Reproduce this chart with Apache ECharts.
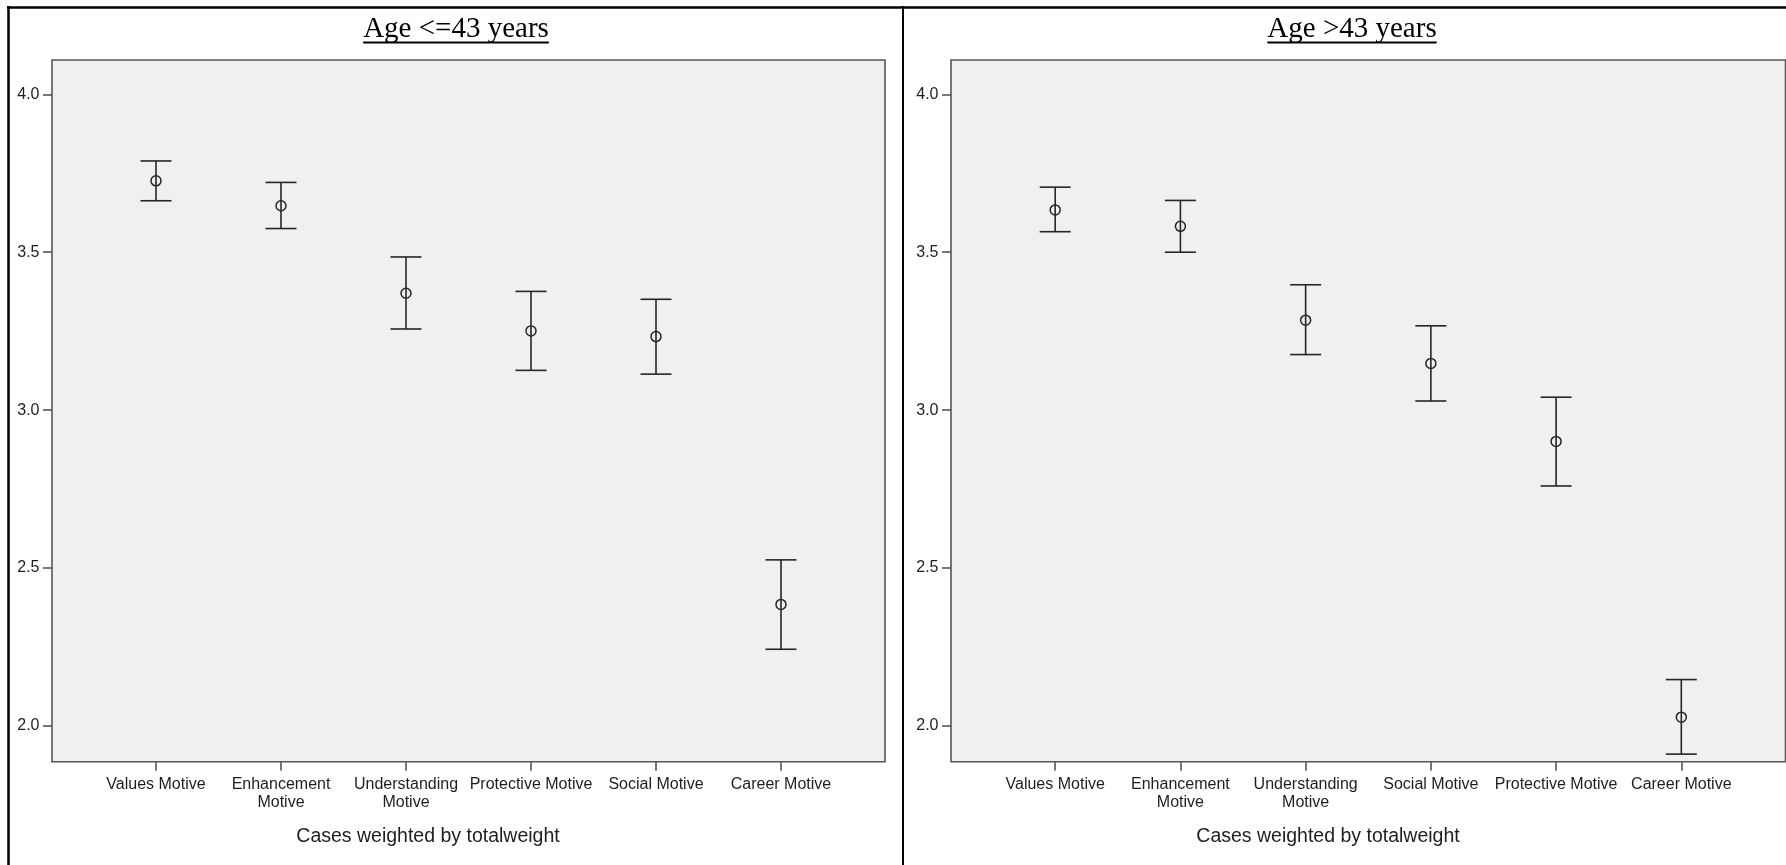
<!DOCTYPE html>
<html>
<head>
<meta charset="utf-8">
<title>Volunteer motives by age group</title>
<script src="https://cdn.jsdelivr.net/npm/echarts@6/dist/echarts.min.js"></script>
<style>
  html, body { margin: 0; padding: 0; background: #fff; }
  #chart { width: 1786px; height: 865px; }
</style>
</head>
<body>
<div id="chart"></div>
<script>
// Panel headings
const panelTitles = ['Age <=43 years', 'Age >43 years'];
const footnote = 'Cases weighted by totalweight';

// Age <= 43: categories in plotted order, with mean and interval bounds
const categoriesYoung = ['Values Motive', 'Enhancement\nMotive', 'Understanding\nMotive', 'Protective Motive', 'Social Motive', 'Career Motive'];
const meanYoung = [3.726, 3.647, 3.370, 3.251, 3.233, 2.385];
const lowYoung  = [3.663, 3.575, 3.257, 3.126, 3.114, 2.243];
const highYoung = [3.789, 3.721, 3.485, 3.376, 3.351, 2.526];

// Age > 43
const categoriesOld = ['Values Motive', 'Enhancement\nMotive', 'Understanding\nMotive', 'Social Motive', 'Protective Motive', 'Career Motive'];
const meanOld = [3.634, 3.582, 3.285, 3.148, 2.901, 2.028];
const lowOld  = [3.565, 3.500, 3.176, 3.029, 2.760, 1.911];
const highOld = [3.706, 3.664, 3.397, 3.267, 3.041, 2.147];

// Y axis tick values
const yTicks = [2.0, 2.5, 3.0, 3.5, 4.0];

const labelFont = "'Liberation Sans', Arial, sans-serif";
const serifFont = "'Liberation Serif', 'Times New Roman', serif";
const ink = '#1e1e1e';
const frame = '#555555';

const chart = echarts.init(document.getElementById('chart'), null, { renderer: 'canvas' });

function rows(low, high, mean) {
  return mean.map((m, i) => [i, low[i], high[i], m]);
}

// Vertical interval with end caps and a hollow circle at the mean
function renderErrorBar(params, api) {
  const x = api.value(0);
  const lo = api.coord([x, api.value(1)]);
  const hi = api.coord([x, api.value(2)]);
  const mid = api.coord([x, api.value(3)]);
  const half = 15.5;
  const style = { stroke: '#262626', lineWidth: 1.6, fill: null };
  return {
    type: 'group',
    children: [
      { type: 'line', shape: { x1: hi[0], y1: hi[1], x2: lo[0], y2: lo[1] }, style },
      { type: 'line', shape: { x1: hi[0] - half, y1: hi[1], x2: hi[0] + half, y2: hi[1] }, style },
      { type: 'line', shape: { x1: lo[0] - half, y1: lo[1], x2: lo[0] + half, y2: lo[1] }, style },
      { type: 'circle', shape: { cx: mid[0], cy: mid[1], r: 5 }, style: { stroke: '#262626', lineWidth: 1.5, fill: 'none' } }
    ]
  };
}

function xAxisFor(gridIndex, cats) {
  const idx = cats.map((_, i) => i);
  return {
    type: 'value', gridIndex, min: -0.832, max: cats.length - 1 + 0.832,
    position: 'bottom',
    splitLine: { show: false },
    axisLine: { show: false, onZero: false },
    axisTick: { show: true, customValues: idx, length: 9, inside: false, lineStyle: { color: frame, width: 1.6 } },
    axisLabel: {
      customValues: idx, margin: 14, hideOverlap: false,
      formatter: v => cats[Math.round(v)],
      color: ink, fontFamily: labelFont, fontSize: 16, lineHeight: 17.6, align: 'center'
    }
  };
}

function yAxisFor(gridIndex) {
  return {
    type: 'value', gridIndex, min: 1.887, max: 4.1086,
    position: 'left',
    splitLine: { show: false },
    axisLine: { show: false, onZero: false },
    axisTick: { show: true, customValues: yTicks, length: 9, lineStyle: { color: frame, width: 1.6 } },
    axisLabel: {
      customValues: yTicks, margin: 12.5,
      formatter: v => Number(v).toFixed(1),
      color: ink, fontFamily: labelFont, fontSize: 16
    }
  };
}

const gridBase = { top: 60, height: 701.7, show: true, backgroundColor: '#f0f0f0', borderColor: frame, borderWidth: 1.6, containLabel: false };

// Underline widths for the serif headings
const measureCtx = document.createElement('canvas').getContext('2d');
function textWidth(text, font) { measureCtx.font = font; return measureCtx.measureText(text).width; }
const titleFont = '29px ' + serifFont;

function heading(text, cx) {
  const w = textWidth(text, titleFont);
  return [
    { type: 'text', style: { text, x: cx, y: 29.7, font: titleFont, fill: '#000', align: 'center', verticalAlign: 'middle' } },
    { type: 'line', shape: { x1: cx - w / 2, y1: 42.5, x2: cx + w / 2, y2: 42.5 }, style: { stroke: '#000', lineWidth: 1.8 } }
  ];
}

function footer(text, cx) {
  return { type: 'text', style: { text, x: cx, y: 837, font: '19.5px ' + labelFont, fill: ink, align: 'center', verticalAlign: 'middle' } };
}

const cellLines = { stroke: '#000', lineWidth: 2.5 };

chart.setOption({
  animation: false,
  backgroundColor: '#ffffff',
  grid: [
    Object.assign({ left: 52, width: 833 }, gridBase),
    Object.assign({ left: 951, width: 834.5 }, gridBase)
  ],
  xAxis: [xAxisFor(0, categoriesYoung), xAxisFor(1, categoriesOld)],
  yAxis: [yAxisFor(0), yAxisFor(1)],
  series: [
    { type: 'custom', xAxisIndex: 0, yAxisIndex: 0, renderItem: renderErrorBar, data: rows(lowYoung, highYoung, meanYoung), encode: { x: 0, y: [1, 2, 3] }, clip: false },
    { type: 'custom', xAxisIndex: 1, yAxisIndex: 1, renderItem: renderErrorBar, data: rows(lowOld, highOld, meanOld), encode: { x: 0, y: [1, 2, 3] }, clip: false }
  ],
  graphic: [
    // table rules around the two panels
    { type: 'line', shape: { x1: 7, y1: 7.5, x2: 1786, y2: 7.5 }, style: cellLines },
    { type: 'line', shape: { x1: 8.5, y1: 6, x2: 8.5, y2: 865 }, style: cellLines },
    { type: 'line', shape: { x1: 903, y1: 6, x2: 903, y2: 865 }, style: { stroke: '#000', lineWidth: 2 } },
    ...heading(panelTitles[0], 456),
    ...heading(panelTitles[1], 1352),
    footer(footnote, 428),
    footer(footnote, 1328)
  ]
});
</script>
</body>
</html>
